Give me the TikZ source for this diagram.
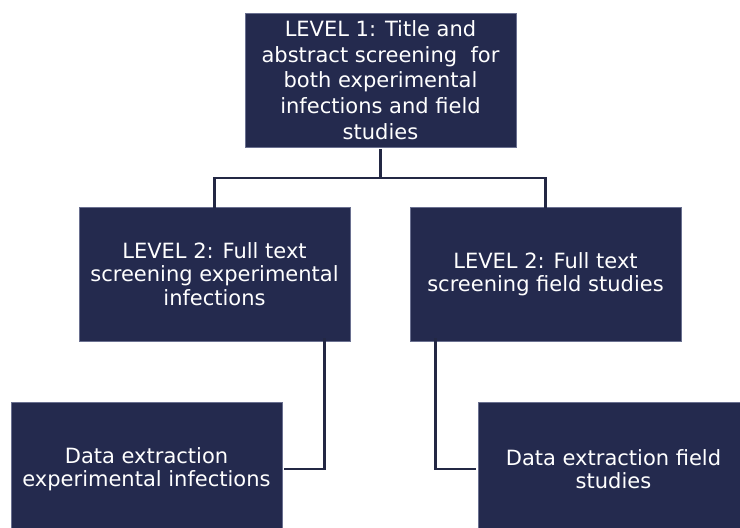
\documentclass[tikz,border=0pt]{standalone}
\usepackage{fontspec}
\setmainfont{DejaVu Sans}
\definecolor{navy}{HTML}{242A4E}
\definecolor{edgecol}{HTML}{6A7090}
\definecolor{linecol}{HTML}{232844}
\begin{document}
\begin{tikzpicture}[x=1pt,y=-1pt,
  box/.style={rectangle, fill=navy, draw=edgecol, line width=0.6pt, minimum width=271pt, minimum height=134pt, inner sep=0pt, text=white, align=center, font=\fontsize{21}{23.3}\selectfont},
  topbox/.style={box, font=\fontsize{21}{25.7}\selectfont},
  conn/.style={draw=linecol, line width=2.8pt}]
\useasboundingbox (0,0) rectangle (740,528);
\clip (0,0) rectangle (740,528);
\node[topbox] (top) at (380.5,80) {LEVEL 1: Title and\\abstract screening \ for\\both experimental\\infections and field\\studies};
\node[box] (l2l) at (214.5,274) {LEVEL 2: Full text\\screening experimental\\infections};
\node[box] (l2r) at (545.5,274) {LEVEL 2: Full text\\screening field studies};
\node[box] (dl) at (146.5,469) {Data extraction\\experimental infections};
\node[box] (dr) at (613.5,469) {Data extraction field\\studies};
\coordinate (split) at (380.5,178);
\draw[conn] ([yshift=-2pt]top.south) -- (split);
\draw[conn] (split) -| ([yshift=-1pt]l2l.north);
\draw[conn] (split) -| ([yshift=-1pt]l2r.north);
\draw[conn] ([xshift=110pt,yshift=3pt]l2l.south) |- ([xshift=2pt]dl.east);
\draw[conn] ([xshift=-110pt,yshift=3pt]l2r.south) |- ([xshift=-2pt]dr.west);
\end{tikzpicture}
\end{document}
